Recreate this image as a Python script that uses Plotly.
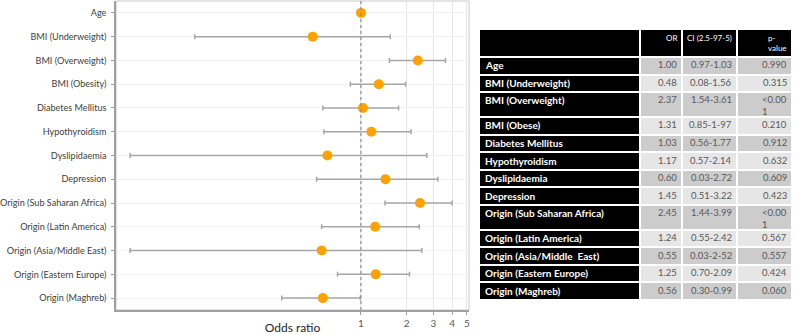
import plotly.graph_objects as go

# ---------------- data ----------------
labels = ["Age", "BMI (Underweight)", "BMI (Overweight)", "BMI (Obesity)",
          "Diabetes Mellitus", "Hypothyroidism", "Dyslipidaemia", "Depression",
          "Origin (Sub Saharan Africa)", "Origin (Latin America)",
          "Origin (Asia/Middle East)", "Origin (Eastern Europe)", "Origin (Maghreb)"]
odds = [1.00, 0.48, 2.37, 1.31, 1.03, 1.17, 0.60, 1.45, 2.45, 1.24, 0.55, 1.25, 0.56]
ci_low = [0.97, 0.08, 1.54, 0.85, 0.56, 0.57, 0.03, 0.51, 1.44, 0.55, 0.03, 0.70, 0.30]
ci_high = [1.03, 1.56, 3.61, 1.97, 1.77, 2.14, 2.72, 3.22, 3.99, 2.42, 2.52, 2.09, 0.99]
x_ticks = [1, 2, 3, 4, 5]

table_header = ["", "OR", "CI (2.5-97-5)", "p-value"]
table_labels = ["Age", "BMI (Underweight)", "BMI (Overweight)", "BMI (Obese)",
                "Diabetes Mellitus", "Hypothyroidism", "Dyslipidaemia", "Depression",
                "Origin (Sub Saharan Africa)", "Origin (Latin America)",
                "Origin (Asia/Middle  East)", "Origin (Eastern Europe)", "Origin (Maghreb)"]
table_or = ["1.00", "0.48", "2.37", "1.31", "1.03", "1.17", "0.60", "1.45",
            "2.45", "1.24", "0.55", "1.25", "0.56"]
table_ci = ["0.97-1.03", "0.08-1.56", "1.54-3.61", "0.85-1-97", "0.56-1.77",
            "0.57-2.14", "0.03-2.72", "0.51-3.22", "1.44-3.99", "0.55-2.42",
            "0.03-2-52", "0.70-2.09", "0.30-0.99"]
table_p = ["0.990", "0.315", "<0.001", "0.210", "0.912", "0.632", "0.609",
           "0.423", "<0.001", "0.567", "0.557", "0.424", "0.060"]

# ---------------- styling ----------------
FONT = "Lato, Roboto, sans-serif"
W, H = 796, 335
ML, MR, MT, MB = 116, 0, 1, 25
PW, PH = W - ML - MR, H - MT - MB
TFS = 10


def px_x(p):
    return (p - ML) / PW


def px_y(p):
    return (H - MB - p) / PH


fig = go.Figure()

# ---------------- forest plot ----------------
fig.add_trace(go.Scatter(
    x=odds, y=labels, mode="markers",
    marker=dict(color="#FFA200", size=10),
    error_x=dict(type="data", symmetric=False,
                 array=[h - o for h, o in zip(ci_high, odds)],
                 arrayminus=[o - l for o, l in zip(odds, ci_low)],
                 color="#A6A6A6", thickness=1.5, width=2.5),
    hoverinfo="skip", showlegend=False, xaxis="x", yaxis="y",
))

fig.add_shape(type="line", xref="x", yref="y domain", x0=1, x1=1, y0=0, y1=1,
              line=dict(color="#8C8C8C", width=1.2, dash="dot"))
fig.add_shape(type="rect", xref="x domain", yref="y domain", x0=0, x1=1, y0=0, y1=1,
              line=dict(color="#C8C8C8", width=1), layer="below")

# ---------------- table ----------------
col_w = [161, 42, 55, 55]
col_edges = [0]
for w in col_w:
    col_edges.append(col_edges[-1] + w)

HEADER_H, SINGLE_H, DOUBLE_H = 28, 17.5, 25


def wrap(s, n=5):
    return s if len(s) <= n else s[:n] + "<br>" + s[n:]


p_disp = [wrap(p) for p in table_p]
row_h = [HEADER_H] + [DOUBLE_H if "<br>" in p else SINGLE_H for p in p_disp]
row_edges = [0]
for h in row_h:
    row_edges.append(row_edges[-1] + h)
total_h = row_edges[-1]

z = [[0, 0, 0, 0]]
for i in range(len(table_labels)):
    c = 1 if i % 2 == 0 else 2
    z.append([0, c, c, c])

fig.add_trace(go.Heatmap(
    x=col_edges, y=row_edges, z=z, zmin=0, zmax=2,
    colorscale=[[0, "#000000"], [0.5, "#CCCCCC"], [1, "#E6E6E6"]],
    showscale=False, xgap=2, ygap=2, hoverinfo="skip",
    xaxis="x2", yaxis="y2",
))

annotations = []
hdr_disp = ["", "OR", "CI (2.5-97-5)", "p-<br>value"]
for j in range(1, 4):
    annotations.append(dict(
        x=col_edges[j + 1] - 3, y=row_edges[0] + 1.5, xref="x2", yref="y2",
        text=hdr_disp[j], showarrow=False, xanchor="right", yanchor="top",
        align="left", font=dict(family=FONT, size=8, color="#FFFFFF")))
for i in range(len(table_labels)):
    top = row_edges[i + 1] + 0.3
    annotations.append(dict(
        x=col_edges[0] + 4, y=top, xref="x2", yref="y2",
        text="<b>" + table_labels[i] + "</b>", showarrow=False,
        xanchor="left", yanchor="top",
        font=dict(family=FONT, size=TFS, color="#FFFFFF")))
    for j, vals in ((1, table_or), (2, table_ci), (3, p_disp)):
        annotations.append(dict(
            x=col_edges[j + 1] - 3, y=top, xref="x2", yref="y2",
            text=vals[i].replace("<0", "&lt;0"), showarrow=False,
            xanchor="right", yanchor="top", align="left",
            font=dict(family=FONT, size=TFS - 0.5, color="#595959")))

fig.update_layout(
    width=W, height=H,
    margin=dict(l=ML, r=MR, t=MT, b=MB),
    paper_bgcolor="white", plot_bgcolor="white",
    font=dict(family=FONT, color="#404040"),
    annotations=annotations,
    xaxis=dict(
        type="log", domain=[0, px_x(469)],
        range=[-1.616, 0.7126],
        tickvals=x_ticks, ticktext=[str(t) for t in x_ticks],
        showgrid=True, gridcolor="#E6E6E6", gridwidth=1,
        ticks="outside", ticklen=3, tickcolor="#A0A0A0",
        showline=True, linecolor="#A0A0A0", linewidth=1.5,
        tickfont=dict(family=FONT, size=10, color="#595959"),
        title=dict(text="Odds ratio", standoff=6,
                   font=dict(family=FONT, size=12, color="#262626")),
        automargin=False, zeroline=False, fixedrange=True,
    ),
    yaxis=dict(
        type="category", categoryorder="array", categoryarray=labels,
        range=[len(labels) - 0.5, -0.5],
        showgrid=True, gridcolor="#F2F2F2",
        ticks="outside", ticklen=3, tickcolor="#A0A0A0",
        showline=True, linecolor="#A0A0A0", linewidth=1.5,
        tickfont=dict(family=FONT, size=9.1, color="#404040"),
        ticklabelstandoff=3,
        automargin=False, fixedrange=True,
    ),
    xaxis2=dict(domain=[px_x(479), px_x(792)], range=[0, col_edges[-1]],
                anchor="y2", visible=False, fixedrange=True),
    yaxis2=dict(domain=[px_y(300), px_y(29)], range=[total_h, 0],
                anchor="x2", visible=False, fixedrange=True),
)

fig.write_html("out.html")
